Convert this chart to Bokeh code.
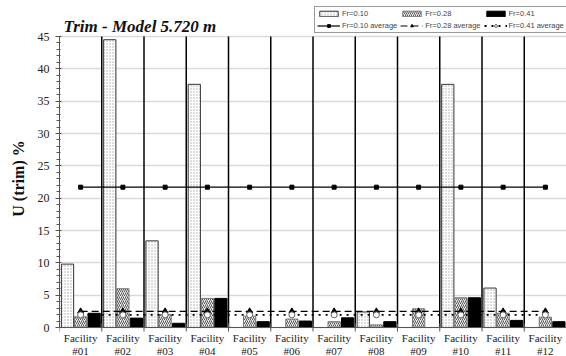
import math
from bokeh.plotting import figure
from bokeh.models import (FixedTicker, Span, Legend, LegendItem, Label, ColumnDataSource, Range1d)
from bokeh.core.properties import value
from bokeh.embed import file_html
from bokeh.resources import INLINE

facilities = ["#01", "#02", "#03", "#04", "#05", "#06", "#07", "#08", "#09", "#10", "#11", "#12"]
fr010 = [9.8, 44.5, 13.4, 37.6, 0.0, 0.0, 0.0, 2.4, 0.0, 37.6, 6.1, 0.0]
fr028 = [1.65, 6.0, 2.0, 4.5, 1.75, 1.3, 0.9, 0.4, 2.9, 4.6, 2.2, 1.6]
fr041 = [2.2, 1.45, 0.65, 4.5, 0.9, 1.0, 1.5, 0.9, 0.0, 4.6, 1.1, 0.9]
avg010 = 21.7
avg028 = 2.5
avg041 = 1.95
y_ticks = [0, 5, 10, 15, 20, 25, 30, 35, 40, 45]

n = len(facilities)
centers = [i + 0.5 for i in range(n)]
bounds = list(range(n + 1))

# pixel layout of the value axis: 0 at 327 px, 45 at 36 px in a 356 px tall canvas
H = 356
y0_px, ytop_px = 327, 36
ymax = y_ticks[-1]
ppu = (y0_px - ytop_px) / ymax
y_lo = -(H - y0_px) / ppu
y_hi = ymax + ytop_px / ppu

p = figure(width=566, height=H, output_backend="svg", toolbar_location=None,
           x_range=Range1d(0, n), y_range=Range1d(y_lo, y_hi), x_axis_location=None,
           min_border_left=59, min_border_right=0, min_border_top=0, min_border_bottom=0)
p.outline_line_color = None
p.background_fill_color = "white"
p.border_fill_color = "white"

serif = "Liberation Serif"

p.xgrid.grid_line_color = None

p.yaxis.ticker = FixedTicker(ticks=y_ticks, minor_ticks=list(range(0, ymax + 1)))
p.yaxis.bounds = (0, ymax)
p.yaxis.major_label_text_font = serif
p.yaxis.major_label_text_font_size = "12px"
p.yaxis.major_label_text_color = "#222222"
p.yaxis.axis_line_color = "#555555"
p.yaxis.major_tick_line_color = "#555555"
p.yaxis.minor_tick_line_color = "#555555"
p.yaxis.major_tick_out = 4
p.yaxis.major_tick_in = 2
p.yaxis.minor_tick_out = 3
p.yaxis.minor_tick_in = 1
p.yaxis.major_label_standoff = 6
p.yaxis.axis_label = "U (trim) %"
p.yaxis.axis_label_text_font = serif
p.yaxis.axis_label_text_font_style = "bold"
p.yaxis.axis_label_text_font_size = "16px"
p.yaxis.axis_label_text_color = "#111111"
p.yaxis.axis_label_standoff = 8
p.ygrid.grid_line_color = "#d9d9d9"
p.ygrid.grid_line_width = 1.5

# bars
w = 0.29
src = ColumnDataSource(dict(
    x1=[c - 0.31 for c in centers], x2=centers, x3=[c + 0.32 for c in centers],
    a=fr010, b=fr028, c=fr041))
r1 = p.vbar(x="x1", top="a", bottom=0, width=w, source=src, fill_color="white",
            line_color="#333333", line_width=1, hatch_pattern="dot", hatch_scale=3,
            hatch_color="#aaaaaa", hatch_weight=1)
r2 = p.vbar(x="x2", top="b", bottom=0, width=w, source=src, fill_color="#eeeeee",
            line_color="#777777", line_width=1, hatch_pattern="right_diagonal_line",
            hatch_scale=4, hatch_color="#555555", hatch_weight=1)
r3 = p.vbar(x="x3", top="c", bottom=0, width=w, source=src, fill_color="black",
            line_color="black", line_width=1)

# separators and category axis
p.segment(x0=bounds[1:-1], y0=0, x1=bounds[1:-1], y1=ymax, line_color="black", line_width=1.5)
p.add_layout(Span(location=0, dimension="width", line_color="#555555", line_width=1.2))
p.scatter(bounds, [0] * len(bounds), marker="dash", angle=math.pi / 2, size=8,
          line_color="#555555", line_width=1)
p.text(x=centers, y=[0] * n, text=["Facility\n" + f for f in facilities],
       text_font=value(serif), text_font_size="11px", text_color="#222222",
       text_align="center", text_baseline="top", y_offset=4, text_line_height=1.12)

# averages
l1 = p.line(centers, [avg010] * n, line_color="black", line_width=1.2)
m1 = p.scatter(centers, [avg010] * n, marker="square", size=4, fill_color="black", line_color="black")
l2 = p.line(centers, [avg028] * n, line_color="black", line_width=1.2, line_dash="7 4")
m2 = p.scatter(centers, [avg028] * n, marker="triangle", size=6, fill_color="black", line_color="black")
l3 = p.line(centers, [avg041] * n, line_color="black", line_width=1.8, line_dash="2 5")
m3 = p.scatter(centers, [avg041] * n, marker="circle", size=6, fill_color="white", line_color="#666666")

legend = Legend(items=[
    LegendItem(label="Fr=0.10", renderers=[r1]),
    LegendItem(label="Fr=0.28", renderers=[r2]),
    LegendItem(label="Fr=0.41", renderers=[r3]),
    LegendItem(label="Fr=0.10 average", renderers=[l1, m1]),
    LegendItem(label="Fr=0.28 average", renderers=[l2, m2]),
    LegendItem(label="Fr=0.41 average", renderers=[l3, m3]),
], orientation="horizontal", nrows=2, location=(255, H - 33))
legend.label_text_font = "Liberation Sans"
legend.label_text_font_size = "7.5px"
legend.label_height = 8
legend.glyph_height = 7
legend.glyph_width = 23
legend.label_standoff = 2
legend.spacing = 3
legend.padding = 2
legend.margin = 0
legend.border_line_color = "#333333"
legend.border_line_width = 1
legend.background_fill_alpha = 1
p.add_layout(legend, "center")

p.add_layout(Label(x=4, y=H - 26, x_units="screen", y_units="screen", text="Trim - Model 5.720 m",
                   text_font=serif, text_font_style="bold italic", text_font_size="17px",
                   text_color="#111111", text_baseline="alphabetic"))

open("out.html", "w").write(file_html(p, INLINE))
